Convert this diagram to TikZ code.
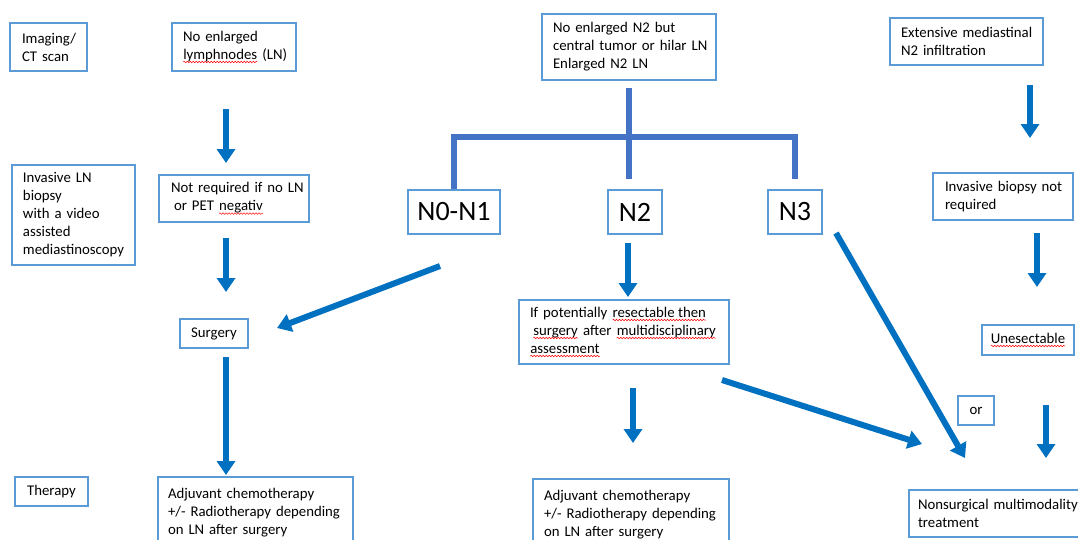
\documentclass[tikz,border=0pt]{standalone}
\usepackage{fontspec}
\setmainfont{Carlito}
\usepackage{tikz}
\usetikzlibrary{arrows.meta,decorations.pathmorphing}

\definecolor{boxblue}{HTML}{5B9BD5}
\definecolor{arrowblue}{HTML}{0070C0}
\definecolor{treeblue}{HTML}{4472C4}

\newcommand\boxfont{\fontsize{14.8}{18}\selectfont\hyphenpenalty=10000 }
\newcommand\bigfont{\fontsize{28}{32}\selectfont}

\tikzset{spellword/.style={inner sep=0pt,outer sep=0pt,text width={},minimum width=0pt,minimum height=0pt,draw=none,anchor=base}}
% red wavy underline of the spell check
\newcommand\spell[1]{\tikz[baseline=(w.base)]{\node[spellword] (w) {#1};
  \draw[red,line width=0.5pt,decorate,decoration={snake,amplitude=0.8pt,segment length=3pt}]
    ([yshift=-2.8pt]w.base west) -- ([yshift=-2.8pt]w.base east);}}

\begin{document}
\begin{tikzpicture}[x=1pt,y=-1pt,
  box/.style={draw=boxblue,line width=2pt,anchor=north west,align=left,inner ysep=4pt,font=\boxfont},
  tag/.style={box,align=center},
  big/.style={tag,font=\bigfont},
  arr/.style={draw=arrowblue,line width=6pt,-{Triangle[width=18pt,length=14pt]}},
  tree/.style={draw=treeblue,line width=6pt}]

\fill[white] (0,0) rectangle (1078,539);
\useasboundingbox (0,0) rectangle (1078,539);

%% left column
\node[box,text width=53pt,minimum height=48pt,inner xsep=12pt] (imaging) at (9,22) {Imaging/\\CT~scan};
\node[box,text width=101pt,minimum height=100pt,inner xsep=11pt] (invasiveLN) at (11,164) {Invasive~LN\\biopsy\\with~a~video\\assisted\\mediastinoscopy};
\node[tag,minimum width=73pt,minimum height=29pt] (therapy) at (14,476) {Therapy};

%% no enlarged LN
\node[box,text width=102pt,minimum height=48pt,inner xsep=11pt] (nolymph) at (171,22) {No~enlarged\\\spell{lymphnodes}~(LN)};
\node[box,text width=126pt,minimum height=47pt,inner xsep=12pt] (notreq) at (158,174) {Not~required~if~no~LN\\\hspace{3pt}or~PET~\spell{negativ}};
\node[tag,minimum width=68pt,minimum height=29pt] (surgery) at (179,318) {Surgery};
\node[box,text width=175pt,inner xsep=10pt,inner ysep=11pt] (adjleft) at (157,476) {Adjuvant~chemotherapy\\+/-~Radiotherapy~depending\\on~LN~after~surgery};

%% central tumor or enlarged N2
\node[box,text width=152pt,minimum height=66pt,inner xsep=11pt] (central) at (541,13) {No~enlarged~N2~but\\central~tumor~or~hilar~LN\\Enlarged~N2~LN};
\node[big,minimum width=92pt,minimum height=44pt] (n01) at (407,189) {N0-N1};
\node[big,minimum width=54pt,minimum height=44pt] (n2) at (607,189) {N2};
\node[big,minimum width=54pt,minimum height=44pt] (n3) at (767,189) {N3};
\node[box,text width=188pt,minimum height=64pt,inner xsep=11pt] (resect) at (518,299) {If~potentially~\spell{resectable then}\\\hspace{3pt}\spell{surgery}~after~\spell{multidisciplinary}\\\spell{assessment}};
\node[box,text width=174pt,inner xsep=11pt,inner ysep=11pt] (adjmid) at (532,478) {Adjuvant~chemotherapy\\+/-~Radiotherapy~depending\\on~LN~after~surgery};

%% extensive infiltration
\node[box,text width=131pt,minimum height=47pt,inner xsep=11pt] (extensive) at (889,17) {Extensive~mediastinal\\N2~infiltration};
\node[box,text width=116pt,minimum height=47pt,inner xsep=12pt] (invbiopsy) at (932,172) {Invasive~biopsy~not\\required};
\node[tag,minimum width=92pt,minimum height=30pt] (unresect) at (981,324) {\spell{Unesectable}};
\node[tag,minimum width=36pt,minimum height=29pt] (orbox) at (957,395) {or};
\node[box,text width=166pt,minimum height=47pt,inner xsep=9pt] (nonsurg) at (908,489) {Nonsurgical~multimodality\\treatment};

%% the split under the central box
\coordinate (split) at (629,137);
\draw[tree,shorten <=7pt,shorten >=10pt] (central.south) -- (central.south |- n2.north);
\draw[tree] (n01.north) |- (split) -| ([yshift=10pt]n3.north);

%% free ends of the arrows
\coordinate (a1s) at (226,109);  \coordinate (a1e) at (226,163);
\coordinate (a2s) at (226,238);  \coordinate (a2e) at (226,292);
\coordinate (a3s) at (226,357);  \coordinate (a3e) at (226,475);
\coordinate (a4s) at (628,243);  \coordinate (a4e) at (628,297);
\coordinate (a5s) at (633,388);  \coordinate (a5e) at (633,443);
\coordinate (a6s) at (1030,85);  \coordinate (a6e) at (1030,138);
\coordinate (a7s) at (1037,233); \coordinate (a7e) at (1037,287);
\coordinate (a8s) at (1046,405); \coordinate (a8e) at (1046,458);
\coordinate (a9s) at (440,266);  \coordinate (a9e) at (277,328);
\coordinate (a10s) at (836,233); \coordinate (a10e) at (965,458);
\coordinate (a11s) at (722,380); \coordinate (a11e) at (922,444);

%% the arrows
\draw[arr] (a1s) -- (a1e);
\draw[arr] (a2s) -- (a2e);
\draw[arr] (a3s) -- (a3e);
\draw[arr] (a4s) -- (a4e);
\draw[arr] (a5s) -- (a5e);
\draw[arr] (a6s) -- (a6e);
\draw[arr] (a7s) -- (a7e);
\draw[arr] (a8s) -- (a8e);
\draw[arr] (a9s) -- (a9e);
\draw[arr] (a10s) -- (a10e);
\draw[arr] (a11s) -- (a11e);

\end{tikzpicture}
\end{document}
